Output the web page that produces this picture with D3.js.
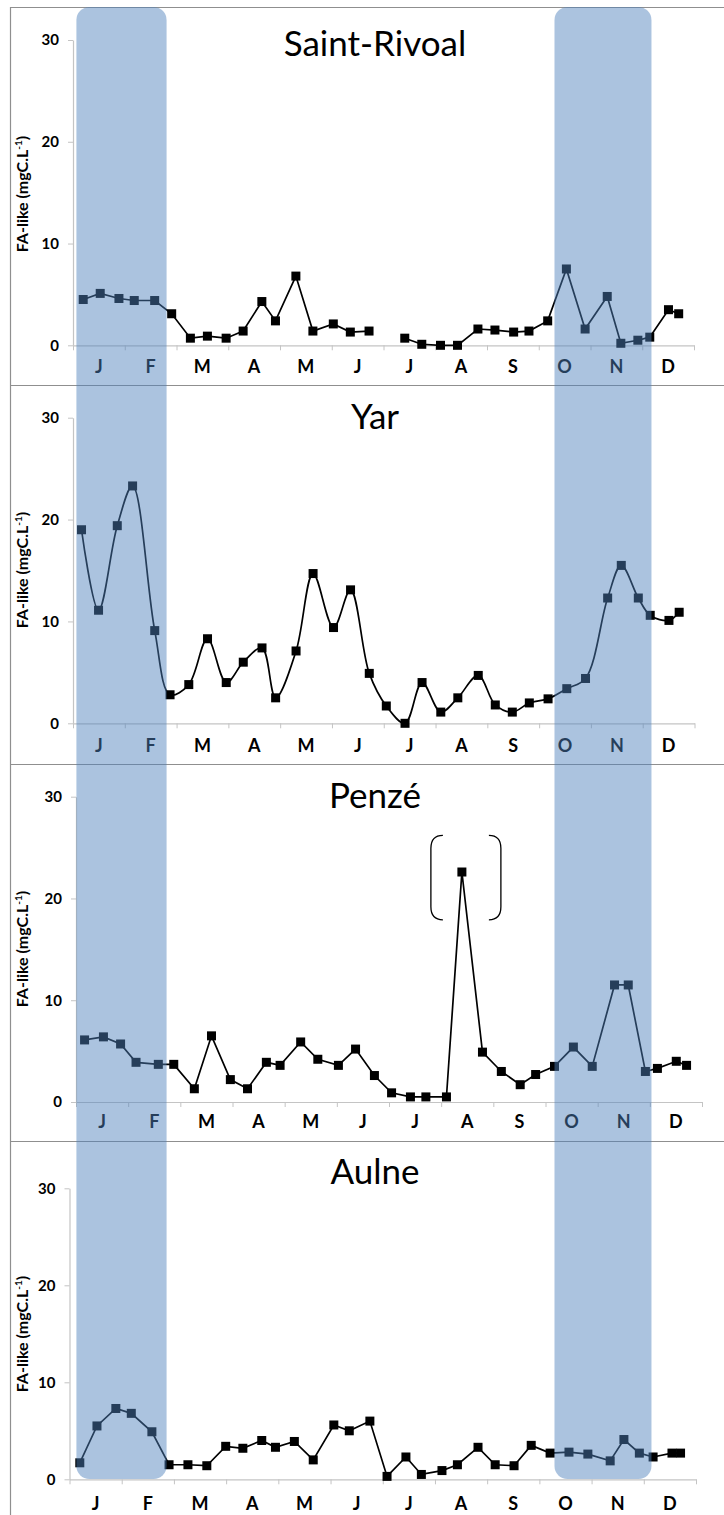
<!DOCTYPE html>
<html>
<head>
<meta charset="utf-8">
<script src="https://cdn.jsdelivr.net/npm/d3@7"></script>
<style>
  body { margin: 0; background: #fff; }
  svg { display: block; }
  text { font-family: Lato, "Open Sans", sans-serif; }
</style>
</head>
<body>
<svg id="chart"></svg>
<script>
// month labels and y ticks
const months = ["J", "F", "M", "A", "M", "J", "J", "A", "S", "O", "N", "D"];
const yTicks = [0, 10, 20, 30];

// Saint-Rivoal (day of year / FA-like, null = no sample, line broken)
const rivoalDays = [6, 16, 27, 36, 48, 58, 69, 79, 90, 100, 111, 119, 131, 141, 153, 163, 174, 185, 195, 205, 216, 226, 238, 248, 259, 268, 279, 290, 301, 314, 322, 332, 339, 350, 356];
const rivoalValues = [4.5, 5.1, 4.6, 4.4, 4.4, 3.1, 0.7, 0.9, 0.7, 1.4, 4.3, 2.4, 6.8, 1.4, 2.1, 1.3, 1.4, null, 0.7, 0.1, 0, 0, 1.6, 1.5, 1.3, 1.4, 2.4, 7.5, 1.6, 4.8, 0.2, 0.5, 0.8, 3.5, 3.1];

// Yar
const yarDays = [5, 15, 26, 35, 48, 57, 68, 79, 90, 100, 111, 119, 131, 141, 153, 163, 174, 184, 195, 205, 216, 226, 238, 248, 258, 268, 279, 290, 301, 314, 322, 332, 339, 350, 356];
const yarValues = [19.0, 11.1, 19.4, 23.3, 9.1, 2.8, 3.8, 8.3, 4.0, 6.0, 7.4, 2.5, 7.1, 14.7, 9.4, 13.1, 4.9, 1.7, 0, 4.0, 1.1, 2.5, 4.7, 1.8, 1.1, 2.0, 2.4, 3.4, 4.4, 12.3, 15.5, 12.3, 10.6, 10.1, 10.9];

// Penzé
const penzeDays = [5, 16, 26, 35, 48, 57, 69, 79, 90, 100, 111, 119, 131, 141, 153, 163, 174, 184, 195, 204, 216, 225, 237, 248, 259, 268, 279, 290, 301, 314, 322, 332, 339, 350, 356];
const penzeValues = [6.1, 6.4, 5.7, 3.9, 3.7, 3.7, 1.3, 6.5, 2.2, 1.3, 3.9, 3.6, 5.9, 4.2, 3.6, 5.2, 2.6, 0.9, 0.5, 0.5, 0.5, 22.6, 4.9, 3.0, 1.7, 2.7, 3.5, 5.4, 3.5, 11.5, 11.5, 3.0, 3.3, 4.0, 3.6];

// Aulne
const aulneDays = [6, 16, 27, 36, 48, 58, 69, 80, 91, 101, 112, 120, 131, 142, 154, 163, 175, 185, 196, 205, 217, 226, 238, 248, 259, 269, 280, 291, 302, 315, 323, 332, 340, 351, 356];
const aulneValues = [1.7, 5.5, 7.3, 6.8, 4.9, 1.5, 1.5, 1.4, 3.4, 3.2, 4.0, 3.3, 3.9, 2.0, 5.6, 5.0, 6.0, 0.3, 2.3, 0.5, 0.9, 1.5, 3.3, 1.5, 1.4, 3.5, 2.7, 2.8, 2.6, 1.9, 4.1, 2.7, 2.3, 2.7, 2.7];

// shaded periods (day of year)
const bands = [[2, 55], [283, 340]];

const width = 724, height = 1515;

const panels = [
  { name: "Saint-Rivoal", days: rivoalDays, values: rivoalValues, curve: d3.curveLinear,
    x0: 73, x1: 694, y0: 345.3, y30: 40, titleY: 56, monthY: 373, labelY: 194 },
  { name: "Yar", days: yarDays, values: yarValues, curve: d3.curveCatmullRom,
    x0: 73, x1: 694.5, y0: 723.3, y30: 417.7, titleY: 429, monthY: 752, labelY: 570 },
  { name: "Penzé", days: penzeDays, values: penzeValues, curve: d3.curveLinear,
    x0: 76, x1: 702, y0: 1102, y30: 796.7, titleY: 808, monthY: 1128, labelY: 949 },
  { name: "Aulne", days: aulneDays, values: aulneValues, curve: d3.curveLinear,
    x0: 69.5, x1: 696, y0: 1479.3, y30: 1188.3, titleY: 1184, monthY: 1510, labelY: 1334 }
];

const svg = d3.select("#chart")
  .attr("width", width)
  .attr("height", height)
  .style("background", "#fff");

// cadre
const frame = svg.append("g").attr("stroke", "#8f8f8f").attr("stroke-width", 1.2);
frame.append("line").attr("x1", 10.5).attr("x2", 10.5).attr("y1", 7).attr("y2", height);
frame.append("line").attr("x1", 10).attr("x2", width).attr("y1", 7.5).attr("y2", 7.5);
[385.5, 764.5, 1141.5].forEach((y) => {
  frame.append("line").attr("x1", 10).attr("x2", width).attr("y1", y).attr("y2", y);
});

panels.forEach((p) => {
  const g = svg.append("g");
  const x = d3.scaleLinear().domain([0, 365]).range([p.x0, p.x1]);
  const xm = d3.scaleLinear().domain([0, 12]).range([p.x0, p.x1]);
  const y = d3.scaleLinear().domain([0, 30]).range([p.y0, p.y30]);

  // axe x
  const ax = g.append("g")
    .attr("transform", `translate(0,${p.y0})`)
    .call(d3.axisBottom(xm).tickValues(d3.range(0, 13)).tickSize(5).tickSizeOuter(0).tickFormat(""));
  ax.select(".domain").attr("stroke", "#c4c4c4").attr("stroke-width", 1.2);
  ax.selectAll(".tick line").attr("stroke", "#c4c4c4");

  // axe y
  const ay = g.append("g")
    .attr("transform", `translate(${p.x0},0)`)
    .call(d3.axisLeft(y).tickValues(yTicks).tickSize(5).tickSizeOuter(0).tickPadding(9));
  ay.select(".domain").attr("stroke", "#c4c4c4").attr("stroke-width", 1.2);
  ay.selectAll(".tick line").attr("stroke", "#c4c4c4");
  ay.selectAll(".tick text")
    .attr("fill", "#000")
    .style("font-family", "Lato, sans-serif")
    .style("font-weight", "bold")
    .style("font-size", "15px");

  // mois
  g.selectAll(".month")
    .data(months)
    .join("text")
    .attr("x", (d, i) => xm(i + 0.5))
    .attr("y", p.monthY)
    .attr("text-anchor", "middle")
    .style("font-weight", "bold")
    .style("font-size", "18px")
    .text((d) => d);

  // titre
  g.append("text")
    .attr("x", 375)
    .attr("y", p.titleY)
    .attr("text-anchor", "middle")
    .style("font-size", "35px")
    .text(p.name);

  // label axe y
  const yl = g.append("text")
    .attr("transform", `translate(28,${p.labelY}) rotate(-90)`)
    .attr("text-anchor", "middle")
    .style("font-weight", "bold")
    .style("font-size", "16px");
  yl.append("tspan").text("FA-like (mgC.L");
  yl.append("tspan").attr("dy", -6).style("font-size", "10px").text("-1");
  yl.append("tspan").attr("dy", 6).text(")");

  const pts = p.days.map((d, i) => ({ day: d, v: p.values[i] }));

  const line = d3.line()
    .defined((d) => d.v != null)
    .x((d) => x(d.day))
    .y((d) => y(d.v))
    .curve(p.curve);

  g.append("path")
    .datum(pts)
    .attr("d", line)
    .attr("fill", "none")
    .attr("stroke", "#000")
    .attr("stroke-width", 1.7);

  g.selectAll(".pt")
    .data(pts.filter((d) => d.v != null))
    .join("rect")
    .attr("x", (d) => x(d.day) - 4.5)
    .attr("y", (d) => y(d.v) - 4.5)
    .attr("width", 9)
    .attr("height", 9)
    .attr("fill", "#000");

  // parenthèses autour du pic (Penzé)
  if (p.name === "Penzé") {
    const peak = pts.reduce((a, b) => (b.v > a.v ? b : a));
    const cx = x(peak.day);
    const yt = y(26.2), yb = y(17.9), r = 13;
    const left = d3.path();
    left.moveTo(cx - 19, yt);
    left.quadraticCurveTo(cx - 31, yt, cx - 31, yt + r);
    left.lineTo(cx - 31, yb - r);
    left.quadraticCurveTo(cx - 31, yb, cx - 19, yb);
    const right = d3.path();
    right.moveTo(cx + 27, yt);
    right.quadraticCurveTo(cx + 39, yt, cx + 39, yt + r);
    right.lineTo(cx + 39, yb - r);
    right.quadraticCurveTo(cx + 39, yb, cx + 27, yb);
    [left, right].forEach((pa) => {
      g.append("path")
        .attr("d", pa.toString())
        .attr("fill", "none")
        .attr("stroke", "#000")
        .attr("stroke-width", 1.3);
    });
  }
});

// bandes bleues par-dessus (semi transparentes)
const xb = d3.scaleLinear().domain([0, 365]).range([73, 694]);
svg.append("g")
  .selectAll("rect")
  .data(bands)
  .join("rect")
  .attr("x", (d) => xb(d[0]))
  .attr("width", (d) => xb(d[1]) - xb(d[0]))
  .attr("y", 7)
  .attr("height", 1479 - 7)
  .attr("rx", 13)
  .attr("fill", "#4F81BD")
  .attr("fill-opacity", 0.48);
</script>
</body>
</html>
